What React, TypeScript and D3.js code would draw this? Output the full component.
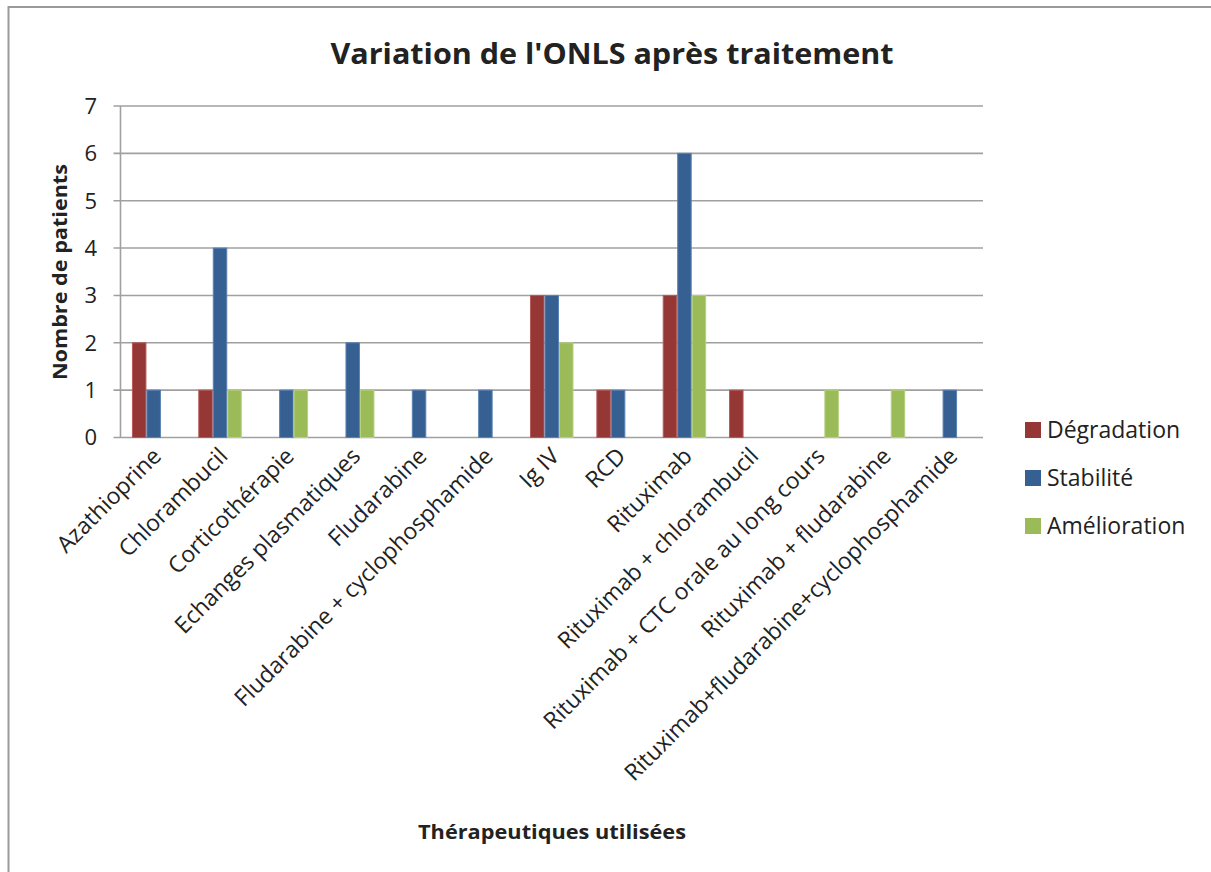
import React, { useEffect, useRef } from 'react';
import * as d3 from 'd3';

const categories = [
  'Azathioprine',
  'Chlorambucil',
  'Corticothérapie',
  'Echanges plasmatiques',
  'Fludarabine',
  'Fludarabine + cyclophosphamide',
  'Ig IV',
  'RCD',
  'Rituximab',
  'Rituximab + chlorambucil',
  'Rituximab + CTC orale au long cours',
  'Rituximab + fludarabine',
  'Rituximab+fludarabine+cyclophosphamide',
];

const seriesNames = ['Dégradation', 'Stabilité', 'Amélioration'];
const degradation = [2, 1, 0, 0, 0, 0, 3, 1, 3, 1, 0, 0, 0];
const stabilite = [1, 4, 1, 2, 1, 1, 3, 1, 6, 0, 0, 0, 1];
const amelioration = [0, 1, 1, 1, 0, 0, 2, 0, 3, 0, 1, 1, 0];
const yTicks = [0, 1, 2, 3, 4, 5, 6, 7];

const colors = ['#953735', '#376092', '#9bbb59'];
const strokes = ['#b65a58', '#5a82b4', '#b5d07e'];

const W = 1211;
const H = 872;
const FONT = '"Open Sans", "DejaVu Sans", sans-serif';

const App = () => {
  const ref = useRef(null);

  useEffect(() => {
    const svg = d3.select(ref.current);
    svg.selectAll('*').remove();

    const left = 120.5;
    const right = 983;
    const top = 106;
    const bottom = 437.5;
    const values = [degradation, stabilite, amelioration];

    // outer frame (right and bottom edges fall outside the picture)
    svg
      .append('rect')
      .attr('x', 8.5)
      .attr('y', 7)
      .attr('width', W + 20)
      .attr('height', H + 20)
      .attr('fill', '#fff')
      .attr('stroke', '#9a9a9a')
      .attr('stroke-width', 2);

    const x = d3.scaleBand().domain(categories).range([left, right]).paddingInner(0).paddingOuter(0);
    const inner = d3
      .scaleBand()
      .domain(seriesNames)
      .range([0, x.bandwidth()])
      .paddingInner(0)
      .paddingOuter(0.79);
    const y = d3.scaleLinear().domain([0, 7]).range([bottom, top]);

    // gridlines + ticks
    svg
      .append('g')
      .selectAll('line')
      .data(yTicks)
      .enter()
      .append('line')
      .attr('x1', left - 7)
      .attr('x2', right)
      .attr('y1', (d) => y(d))
      .attr('y2', (d) => y(d))
      .attr('stroke', '#a0a0a0')
      .attr('stroke-width', 1.6);

    svg
      .append('g')
      .selectAll('text')
      .data(yTicks)
      .enter()
      .append('text')
      .attr('x', 97)
      .attr('y', (d) => y(d))
      .attr('dy', '0.36em')
      .attr('text-anchor', 'end')
      .attr('font-family', FONT)
      .attr('font-size', 22)
      .attr('fill', '#222')
      .text((d) => d);

    // bars
    seriesNames.forEach((s, si) => {
      svg
        .append('g')
        .selectAll('rect')
        .data(categories.map((c, i) => ({ c, v: values[si][i] })).filter((d) => d.v > 0))
        .enter()
        .append('rect')
        .attr('x', (d) => x(d.c) + inner(s) + 0.5)
        .attr('y', (d) => y(d.v))
        .attr('width', inner.bandwidth() - 1)
        .attr('height', (d) => bottom - y(d.v))
        .attr('fill', colors[si])
        .attr('stroke', strokes[si])
        .attr('stroke-width', 1);
    });

    // y axis line
    svg
      .append('line')
      .attr('x1', left)
      .attr('x2', left)
      .attr('y1', top)
      .attr('y2', bottom)
      .attr('stroke', '#a0a0a0')
      .attr('stroke-width', 1.6);

    // x category labels
    svg
      .append('g')
      .selectAll('text')
      .data(categories)
      .enter()
      .append('text')
      .attr('transform', (d) => `translate(${x(d) + x.bandwidth() / 2 + 9},${bottom + 20}) rotate(-45)`)
      .attr('text-anchor', 'end')
      .attr('font-family', FONT)
      .attr('font-size', 23)
      .attr('fill', '#222')
      .text((d) => d);

    // title
    svg
      .append('text')
      .attr('x', 612)
      .attr('y', 64)
      .attr('text-anchor', 'middle')
      .attr('font-family', FONT)
      .attr('font-weight', 'bold')
      .attr('font-size', 28)
      .attr('fill', '#222')
      .attr('textLength', 563)
      .attr('lengthAdjust', 'spacingAndGlyphs')
      .text("Variation de l'ONLS après traitement");

    // axis titles
    svg
      .append('text')
      .attr('transform', `translate(67,272) rotate(-90)`)
      .attr('text-anchor', 'middle')
      .attr('font-family', FONT)
      .attr('font-weight', 'bold')
      .attr('font-size', 20)
      .attr('fill', '#222')
      .attr('textLength', 216)
      .attr('lengthAdjust', 'spacingAndGlyphs')
      .text('Nombre de patients');

    svg
      .append('text')
      .attr('x', 552)
      .attr('y', 839)
      .attr('text-anchor', 'middle')
      .attr('font-family', FONT)
      .attr('font-weight', 'bold')
      .attr('font-size', 20)
      .attr('fill', '#222')
      .attr('textLength', 268)
      .attr('lengthAdjust', 'spacingAndGlyphs')
      .text('Thérapeutiques utilisées');

    // legend
    const legend = svg
      .append('g')
      .selectAll('g')
      .data(seriesNames)
      .enter()
      .append('g')
      .attr('transform', (d, i) => `translate(1025,${430 + i * 48})`);
    legend
      .append('rect')
      .attr('x', 0)
      .attr('y', -8)
      .attr('width', 16)
      .attr('height', 16)
      .attr('fill', (d, i) => colors[i]);
    legend
      .append('text')
      .attr('x', 22)
      .attr('y', 0)
      .attr('dy', '0.36em')
      .attr('font-family', FONT)
      .attr('font-size', 23)
      .attr('fill', '#222')
      .text((d) => d);
  }, []);

  return (
    <svg
      ref={ref}
      width={W}
      height={H}
      style={{ position: 'absolute', left: 0, top: 0, background: '#fff' }}
    ></svg>
  );
};

export default App;
